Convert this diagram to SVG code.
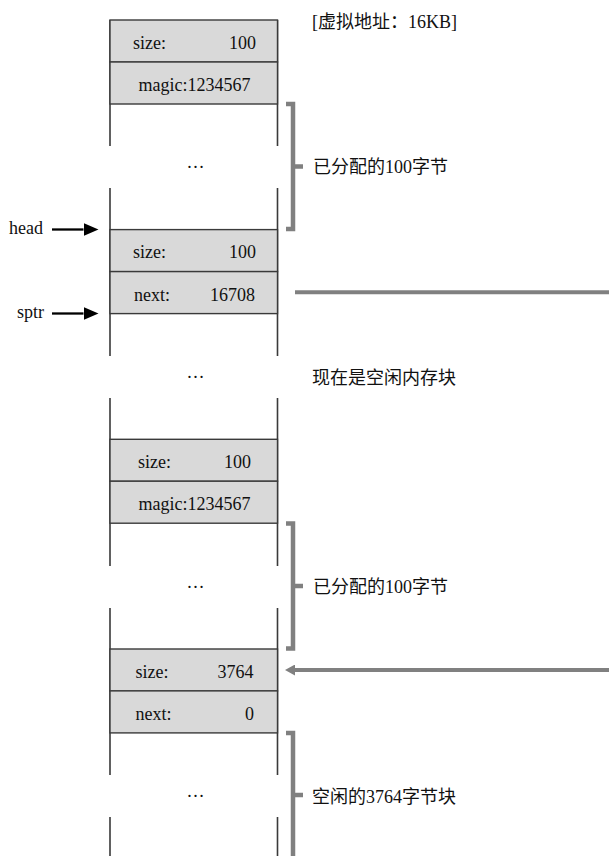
<svg xmlns="http://www.w3.org/2000/svg" width="609" height="856" viewBox="0 0 609 856">
<style>
.t{font-family:"Liberation Serif","Noto Sans CJK SC",serif;font-size:18px;fill:#111}
.cell{fill:#d9d9d9;stroke:#3a3a3a;stroke-width:1.4}
.side{stroke:#3a3a3a;stroke-width:1.6;fill:none}
.br{stroke:#808080;stroke-width:4.5;fill:none}
.gl{stroke:#808080;stroke-width:4;fill:none}
.bl{stroke:#000;stroke-width:2.3;fill:none}
.e{text-anchor:end}
.m{text-anchor:middle}
</style>
<defs>
<marker id="ahb" viewBox="0 0 15 13" refX="0" refY="6.5" markerWidth="15" markerHeight="13" markerUnits="userSpaceOnUse" orient="auto"><path d="M0,0 L15,6.5 L0,13 z" fill="#000"/></marker>
<marker id="ahg" viewBox="0 0 10 11" refX="0" refY="5.5" markerWidth="10" markerHeight="11" markerUnits="userSpaceOnUse" orient="auto"><path d="M0,0 L10,5.5 L0,11 z" fill="#808080"/></marker>
</defs>

<g id="title"><text class="t" x="312" y="28">[虚拟地址：16KB]</text></g>

<g id="column-sides">
<path class="side" d="M110,20 V146 M110,188 V356 M110,398 V566 M110,608 V775 M110,817 V856"/>
<path class="side" d="M277.5,20 V146 M277.5,188 V356 M277.5,398 V566 M277.5,608 V775 M277.5,817 V856"/>
</g>

<g id="alloc1-header">
<rect class="cell" x="110" y="20" width="167.5" height="42"/>
<rect class="cell" x="110" y="62" width="167.5" height="42"/>
<text class="t" x="133" y="48.5">size:</text><text class="t e" x="256" y="48.5">100</text>
<text class="t m" x="194.5" y="90.5">magic:1234567</text>
</g>
<g id="alloc1-body"><text class="t m" x="195.5" y="168">…</text></g>
<g id="alloc1-label">
<path class="br" d="M286,104 H293 V229 H286 M293,166.5 H303"/>
<text class="t" x="313" y="173">已分配的100字节</text>
</g>

<g id="free1-header">
<rect class="cell" x="110" y="229.6" width="167.5" height="42"/>
<rect class="cell" x="110" y="271.6" width="167.5" height="42"/>
<text class="t" x="133" y="258.3">size:</text><text class="t e" x="256" y="258.3">100</text>
<text class="t" x="134" y="300.5">next:</text><text class="t e" x="255" y="300.5">16708</text>
</g>
<g id="free1-body"><text class="t m" x="195.5" y="378">…</text></g>
<g id="free1-label"><text class="t" x="312" y="384">现在是空闲内存块</text></g>

<g id="alloc2-header">
<rect class="cell" x="110" y="439.3" width="167.5" height="42"/>
<rect class="cell" x="110" y="481.2" width="167.5" height="42"/>
<text class="t" x="138" y="468">size:</text><text class="t e" x="251" y="468">100</text>
<text class="t m" x="194.5" y="510">magic:1234567</text>
</g>
<g id="alloc2-body"><text class="t m" x="195.5" y="587.5">…</text></g>
<g id="alloc2-label">
<path class="br" d="M286,523.5 H293 V648.5 H286 M293,586 H303"/>
<text class="t" x="313" y="593">已分配的100字节</text>
</g>

<g id="free2-header">
<rect class="cell" x="110" y="649" width="167.5" height="42"/>
<rect class="cell" x="110" y="690.9" width="167.5" height="42"/>
<text class="t" x="135.5" y="677.5">size:</text><text class="t e" x="253.5" y="677.5">3764</text>
<text class="t" x="135.5" y="719.5">next:</text><text class="t e" x="254" y="719.5">0</text>
</g>
<g id="free2-body"><text class="t m" x="195.5" y="797">…</text></g>
<g id="free2-label">
<path class="br" d="M286,733 H293 V856 M293,795 H303"/>
<text class="t" x="312" y="803">空闲的3764字节块</text>
</g>

<g id="head-label"><text class="t" x="9" y="234">head</text></g>
<g id="sptr-label"><text class="t" x="17" y="318">sptr</text></g>

<g id="connectors">
<line class="bl" x1="52" y1="229.5" x2="83.5" y2="229.5" marker-end="url(#ahb)"/>
<line class="bl" x1="52" y1="313.5" x2="83.5" y2="313.5" marker-end="url(#ahb)"/>
<line class="gl" x1="295" y1="292.3" x2="609" y2="292.3"/>
<line class="gl" x1="609" y1="670" x2="295" y2="670" marker-end="url(#ahg)"/>
</g>
</svg>
